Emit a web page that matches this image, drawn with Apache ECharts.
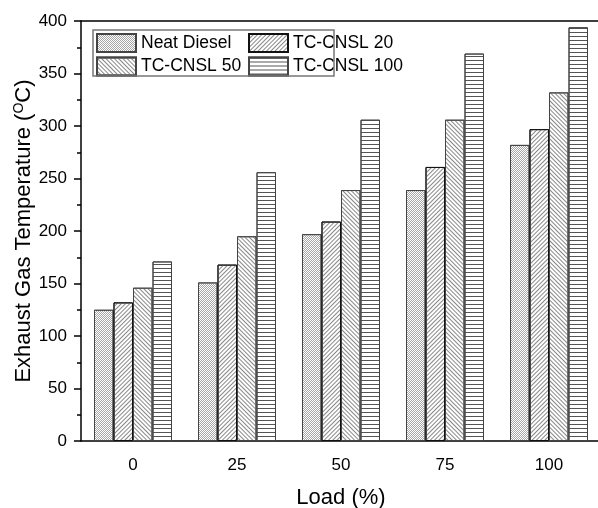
<!DOCTYPE html>
<html>
<head>
    <meta charset="UTF-8">
    <title>index.html</title>
    <script src="https://cdn.jsdelivr.net/npm/echarts@6/dist/echarts.min.js"></script>
    <style>
        html, body { margin: 0; padding: 0; background: #fff; }
    </style>
</head>
<body>
<div id="main" style="width: 598px;height:508px;"></div>
<script>
    // values
    var loads = ['0', '25', '50', '75', '100'];
    var neatDiesel = [125, 151, 197, 239, 282];
    var cnsl20 = [132, 168, 209, 261, 297];
    var cnsl50 = [146, 195, 239, 306, 332];
    var cnsl100 = [171, 256, 306, 369, 394];
    var yTicks = [0, 50, 100, 150, 200, 250, 300, 350, 400];

    var font = 'Liberation Sans';

    var chart = echarts.init(document.getElementById('main'));

    function barSeries(name, data, fill, decal, border) {
        return {
            name: name,
            type: 'bar',
            data: data,
            barGap: '0%',
            barCategoryGap: '25%',
            itemStyle: {
                color: fill,
                borderColor: border,
                borderWidth: 1,
                decal: decal
            },
            emphasis: { disabled: true }
        };
    }

    var legendBase = {
        orient: 'vertical',
        top: 33,
        padding: 0,
        icon: 'rect',
        itemWidth: 39, itemHeight: 18, itemGap: 3.5,
        textStyle: { fontFamily: font, fontSize: 17.5, color: '#000' }
    };

    var option = {
        animation: false,
        backgroundColor: '#fff',
        grid: { left: 81, top: 21, right: -3, bottom: 67, containLabel: false, outerBoundsMode: 'none' },
        legend: [
            Object.assign({ data: ['Neat Diesel', 'TC-CNSL 50'], left: 96 }, legendBase),
            Object.assign({ data: ['TC-CNSL 20', 'TC-CNSL 100'], left: 248 }, legendBase)
        ],
        graphic: [{
            type: 'rect',
            shape: { x: 93, y: 30, width: 241, height: 46 },
            style: { fill: 'none', stroke: '#777', lineWidth: 1.5 },
            z: 10
        }],
        xAxis: [{
            type: 'category',
            data: loads,
            position: 'bottom',
            name: 'Load (%)',
            nameLocation: 'middle',
            nameGap: 46,
            nameMoveOverlap: false,
            nameTextStyle: { fontFamily: font, fontSize: 22, color: '#000' },
            axisLine: { lineStyle: { color: '#000', width: 1.5 } },
            axisTick: { alignWithLabel: true, length: 7, lineStyle: { color: '#000', width: 1.5 } },
            axisLabel: { fontFamily: font, fontSize: 17, color: '#000', margin: 16 },
            splitLine: { show: false }
        }, {
            type: 'category',
            data: loads,
            position: 'bottom',
            axisLine: { show: false },
            axisTick: { length: 4, lineStyle: { color: '#000', width: 1.5 } },
            axisLabel: { show: false },
            splitLine: { show: false }
        }, {
            type: 'category',
            data: loads,
            position: 'top',
            axisLine: { lineStyle: { color: '#000', width: 1.5 } },
            axisTick: { show: false },
            axisLabel: { show: false },
            splitLine: { show: false }
        }],
        yAxis: {
            type: 'value',
            min: 0,
            max: 400,
            interval: 50,
            name: 'Exhaust Gas Temperature ({sup|O}C)',
            nameLocation: 'middle',
            nameGap: 45,
            nameMoveOverlap: false,
            nameTextStyle: {
                fontFamily: font, fontSize: 22, color: '#000',
                rich: { sup: { fontFamily: font, fontSize: 14, color: '#000', padding: [0, 0, 10, 0] } }
            },
            axisLine: { show: true, lineStyle: { color: '#000', width: 1.5 } },
            axisTick: { show: true, length: 7, lineStyle: { color: '#000', width: 1.5 } },
            minorTick: { show: true, splitNumber: 2, length: 4, lineStyle: { color: '#000', width: 1.5 } },
            axisLabel: {
                fontFamily: font, fontSize: 17, color: '#000', margin: 14,
                formatter: function (v) { return yTicks.indexOf(v) >= 0 ? String(v) : ''; }
            },
            splitLine: { show: false }
        },
        series: [
            barSeries('Neat Diesel', neatDiesel, '#fff',
                { symbol: 'rect', dashArrayX: [[1, 1], [0, 1, 1, 0]], dashArrayY: [1, 0], color: '#a6a6a6' }, '#444'),
            barSeries('TC-CNSL 20', cnsl20, '#fff',
                { symbol: 'rect', dashArrayX: [1, 0], dashArrayY: [1, 2], rotation: -Math.PI / 4, color: '#888' }, '#111'),
            barSeries('TC-CNSL 50', cnsl50, '#fff',
                { symbol: 'rect', dashArrayX: [1, 0], dashArrayY: [1, 2], rotation: Math.PI / 4, color: '#888' }, '#444'),
            barSeries('TC-CNSL 100', cnsl100, '#fff',
                { symbol: 'rect', dashArrayX: [1, 0], dashArrayY: [1, 3], color: '#555' }, '#444')
        ]
    };
    chart.setOption(option);
</script>
</body>
</html>
